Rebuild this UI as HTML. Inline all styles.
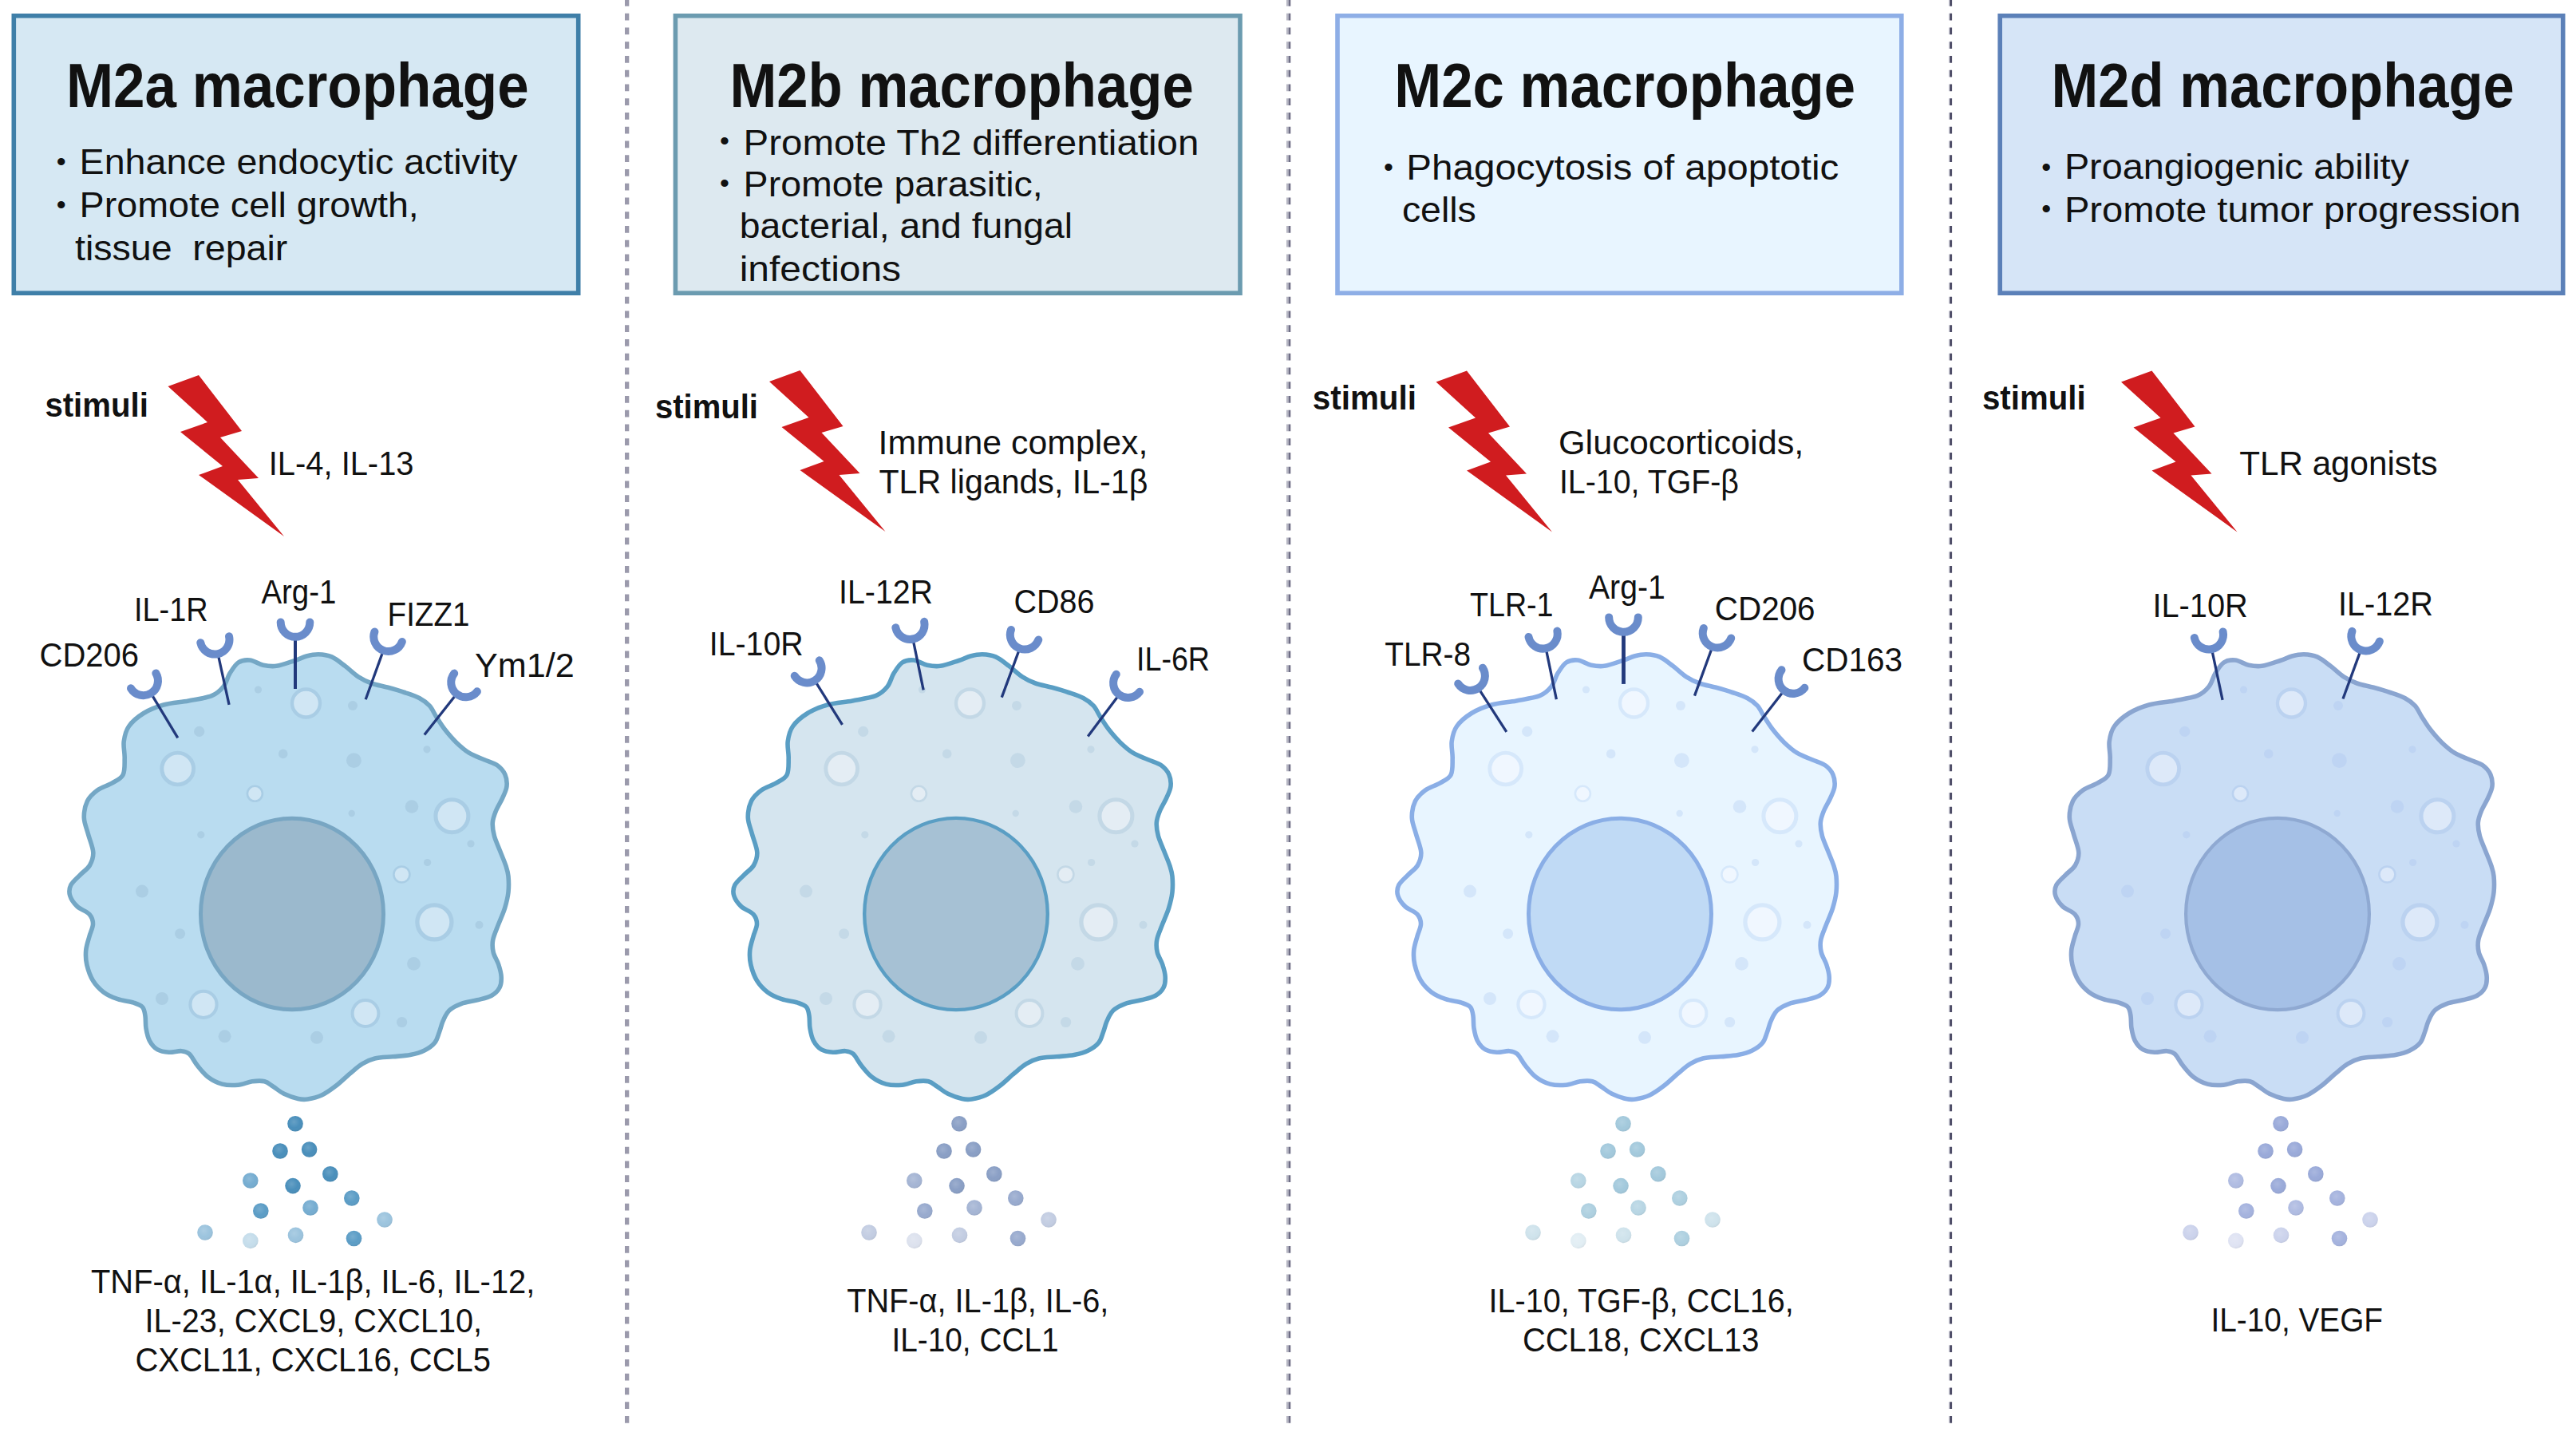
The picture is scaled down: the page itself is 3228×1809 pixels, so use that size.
<!DOCTYPE html>
<html lang="en"><head><meta charset="utf-8"><title>M2 macrophage subtypes</title>
<style>html,body{margin:0;padding:0;background:#fff}svg{display:block}text{font-family:"Liberation Sans",Arial,sans-serif;fill:#111}</style></head><body>
<svg width="3228" height="1809" viewBox="0 0 3228 1809">
<rect width="3228" height="1809" fill="#fff"/>
<defs>
<g id="rc"><line x1="0" y1="-3" x2="0" y2="60" stroke="#22397c"/><path d="M-18.3 -23.5A18.3 18.3 0 0 0 18.3 -23.5" fill="none" stroke="#6a8ccb" stroke-width="10" stroke-linecap="round"/></g>
<radialGradient id="dg0" cx="0.42" cy="0.38" r="0.65"><stop offset="0" stop-color="#fff" stop-opacity="0.16"/><stop offset="0.6" stop-color="#fff" stop-opacity="0"/><stop offset="1" stop-color="#000" stop-opacity="0.07"/></radialGradient>
<radialGradient id="dg1" cx="0.42" cy="0.38" r="0.65"><stop offset="0" stop-color="#fff" stop-opacity="0.16"/><stop offset="0.6" stop-color="#fff" stop-opacity="0"/><stop offset="1" stop-color="#000" stop-opacity="0.07"/></radialGradient>
<radialGradient id="dg2" cx="0.42" cy="0.38" r="0.65"><stop offset="0" stop-color="#fff" stop-opacity="0.16"/><stop offset="0.6" stop-color="#fff" stop-opacity="0"/><stop offset="1" stop-color="#000" stop-opacity="0.07"/></radialGradient>
<radialGradient id="dg3" cx="0.42" cy="0.38" r="0.65"><stop offset="0" stop-color="#fff" stop-opacity="0.16"/><stop offset="0.6" stop-color="#fff" stop-opacity="0"/><stop offset="1" stop-color="#000" stop-opacity="0.07"/></radialGradient>
</defs>
<line x1="785.65" y1="-0.9" x2="785.65" y2="1786" stroke="#9b9aac" stroke-width="5.30" stroke-dasharray="8.6 9.15"/>
<line x1="1613.30" y1="-0.9" x2="1613.30" y2="1786" stroke="#b6b6c3" stroke-width="2.60" stroke-dasharray="8.6 9.15"/>
<line x1="1615.95" y1="-0.9" x2="1615.95" y2="1786" stroke="#6e6d85" stroke-width="2.70" stroke-dasharray="8.6 9.15"/>
<line x1="2442.10" y1="-0.9" x2="2442.10" y2="1786" stroke="#f0f0f4" stroke-width="1.80" stroke-dasharray="8.6 9.15"/>
<line x1="2444.55" y1="-0.9" x2="2444.55" y2="1786" stroke="#504f69" stroke-width="3.10" stroke-dasharray="8.6 9.15"/>

<rect x="17.3" y="19.8" width="707.4" height="347.4" fill="#d6e8f3" stroke="#3f7fa8" stroke-width="5.6"/>
<polygon points="210.5,484.0 249.0,470.0 303.0,540.0 276.0,548.0 324.0,599.0 298.0,601.0 356.0,672.0 249.0,595.0 279.0,584.0 226.0,541.0 260.0,529.0" fill="#d01c1f"/>
<g transform="translate(0 0)">
<path d="M399.0 819.7C393.7 819.6 388.9 820.7 384.0 822.0C379.1 823.3 375.8 825.5 369.5 827.5C363.2 829.5 353.0 833.3 346.4 834.3C339.8 835.2 335.4 834.4 329.8 833.2C324.2 832.0 318.2 827.5 313.0 827.0C307.8 826.5 302.8 827.2 298.6 830.0C294.4 832.8 291.1 838.6 288.0 843.6C284.9 848.6 283.7 855.6 279.9 860.3C276.1 865.0 272.6 868.8 265.3 871.7C258.0 874.6 246.2 876.0 236.2 877.9C226.1 879.8 214.4 880.4 205.0 883.0C195.6 885.6 187.3 889.0 180.0 893.5C172.7 898.0 165.5 904.1 161.4 910.0C157.3 915.9 156.1 922.2 155.2 928.8C154.3 935.4 156.4 942.7 156.2 949.6C156.0 956.5 156.8 965.2 154.2 970.4C151.6 975.6 146.1 977.5 140.7 980.8C135.3 984.1 127.2 986.2 122.0 990.0C116.8 993.8 112.3 997.9 109.5 1003.6C106.7 1009.3 105.1 1017.5 105.3 1024.4C105.5 1031.3 108.6 1037.7 110.5 1045.0C112.4 1052.3 116.5 1061.5 116.8 1068.0C117.1 1074.5 115.1 1079.4 112.5 1084.0C109.9 1088.6 105.0 1091.4 101.0 1095.5C97.0 1099.6 91.0 1104.4 88.8 1108.8C86.6 1113.2 86.4 1117.6 87.7 1122.0C89.0 1126.4 92.5 1131.5 96.6 1135.4C100.6 1139.3 108.7 1141.7 112.0 1145.4C115.3 1149.1 116.5 1153.0 116.5 1157.6C116.5 1162.2 113.5 1167.5 112.0 1173.0C110.5 1178.5 108.2 1184.9 107.7 1190.8C107.2 1196.7 107.3 1202.2 108.8 1208.5C110.3 1214.8 113.0 1222.8 116.5 1228.5C120.0 1234.2 124.6 1239.0 129.8 1242.9C135.0 1246.8 141.3 1249.5 147.6 1251.7C153.9 1253.9 162.3 1254.5 167.5 1256.2C172.7 1257.9 176.2 1258.9 178.6 1261.7C181.0 1264.5 181.3 1268.4 182.0 1272.8C182.7 1277.2 182.1 1283.1 183.0 1288.3C183.9 1293.5 185.0 1299.4 187.4 1303.8C189.8 1308.2 193.3 1312.5 197.4 1314.9C201.5 1317.3 206.8 1317.9 211.8 1318.2C216.8 1318.5 223.1 1316.3 227.3 1316.7C231.6 1317.1 234.0 1317.4 237.3 1320.4C240.6 1323.4 243.4 1330.0 247.3 1334.8C251.2 1339.6 255.4 1345.3 260.6 1349.2C265.8 1353.1 272.0 1356.4 278.3 1358.1C284.6 1359.8 291.9 1359.8 298.2 1359.2C304.5 1358.7 310.4 1355.5 316.0 1354.8C321.6 1354.1 327.1 1353.7 331.5 1354.8C335.9 1355.9 338.5 1358.8 342.6 1361.4C346.7 1364.0 350.7 1367.8 355.9 1370.3C361.1 1372.8 368.7 1375.4 373.6 1376.5C378.5 1377.6 380.6 1377.8 385.5 1377.0C390.4 1376.2 397.3 1374.8 403.2 1372.0C409.1 1369.2 415.1 1364.8 421.0 1360.3C426.9 1355.8 433.2 1349.4 438.7 1344.8C444.2 1340.2 449.0 1335.7 454.2 1332.6C459.4 1329.5 463.4 1327.5 469.7 1326.0C476.0 1324.5 484.5 1324.5 491.9 1323.8C499.3 1323.0 507.4 1322.8 514.0 1321.5C520.6 1320.2 526.6 1318.6 531.8 1316.0C537.0 1313.4 541.9 1309.9 545.0 1306.0C548.1 1302.1 548.9 1297.1 550.6 1292.7C552.3 1288.3 553.0 1283.9 555.0 1279.4C557.0 1275.0 558.9 1269.7 562.8 1266.0C566.7 1262.3 572.4 1259.5 578.3 1257.3C584.2 1255.1 591.9 1254.5 598.2 1252.8C604.5 1251.1 611.4 1249.9 616.0 1247.3C620.6 1244.7 624.0 1241.2 626.0 1237.3C628.0 1233.4 628.4 1228.8 628.2 1224.0C628.0 1219.2 626.5 1213.7 624.8 1208.5C623.1 1203.3 619.4 1198.2 618.2 1193.0C617.0 1187.8 616.6 1183.4 617.7 1177.5C618.8 1171.6 622.3 1164.2 624.8 1157.6C627.3 1150.9 630.6 1144.2 632.6 1137.6C634.6 1130.9 636.3 1124.3 637.0 1117.7C637.7 1111.1 637.5 1103.2 637.0 1097.7C636.5 1092.2 635.6 1090.0 633.9 1084.7C632.2 1079.4 629.0 1072.2 626.6 1066.0C624.2 1059.8 621.0 1053.2 619.4 1047.3C617.8 1041.4 617.0 1035.9 617.3 1030.7C617.6 1025.5 619.3 1021.2 621.4 1016.0C623.5 1010.8 627.5 1004.7 629.8 999.5C632.1 994.3 634.5 989.9 635.0 985.0C635.5 980.1 634.8 974.7 632.9 970.4C631.0 966.1 627.8 962.1 623.5 959.0C619.2 955.9 612.8 954.3 606.9 951.7C601.0 949.1 594.1 947.0 588.2 943.4C582.3 939.8 576.8 934.9 571.6 929.9C566.4 924.9 561.2 918.7 557.0 913.3C552.8 907.9 549.7 902.6 546.6 897.7C543.5 892.9 541.8 888.0 538.3 884.2C534.8 880.4 531.1 877.6 525.9 874.8C520.7 872.0 513.6 869.8 507.0 867.5C500.4 865.2 493.3 863.2 486.4 861.3C479.5 859.4 471.8 858.2 465.6 856.0C459.4 853.8 454.6 851.4 449.0 847.8C443.4 844.2 437.9 838.4 432.3 834.3C426.8 830.1 421.2 825.3 415.7 822.9C410.1 820.5 404.3 819.9 399.0 819.7Z" fill="#b9dcf0" stroke="#74a7c5" stroke-width="5.6" stroke-linejoin="round"/>
<circle cx="249.7" cy="916.4" r="6.6" fill="#abcee4"/>
<circle cx="323.5" cy="864.0" r="4.6" fill="#abcee4"/>
<circle cx="354.7" cy="944.4" r="5.8" fill="#abcee4"/>
<circle cx="251.8" cy="1045.8" r="4.6" fill="#abcee4"/>
<circle cx="442.0" cy="884.0" r="6.0" fill="#abcee4"/>
<circle cx="443.4" cy="952.7" r="9.4" fill="#abcee4"/>
<circle cx="535.0" cy="938.8" r="4.6" fill="#abcee4"/>
<circle cx="516.0" cy="1010.5" r="8.3" fill="#abcee4"/>
<circle cx="440.7" cy="1019.0" r="4.2" fill="#abcee4"/>
<circle cx="590.0" cy="1057.0" r="4.6" fill="#abcee4"/>
<circle cx="535.6" cy="1080.5" r="4.6" fill="#abcee4"/>
<circle cx="600.5" cy="1158.7" r="5.0" fill="#abcee4"/>
<circle cx="518.5" cy="1207.4" r="8.4" fill="#abcee4"/>
<circle cx="503.6" cy="1280.5" r="6.6" fill="#abcee4"/>
<circle cx="397.0" cy="1299.8" r="8.0" fill="#abcee4"/>
<circle cx="281.6" cy="1298.3" r="8.0" fill="#abcee4"/>
<circle cx="203.0" cy="1251.0" r="8.0" fill="#abcee4"/>
<circle cx="225.6" cy="1169.7" r="6.5" fill="#abcee4"/>
<circle cx="178.0" cy="1116.6" r="8.0" fill="#abcee4"/>
<circle cx="383.5" cy="881.0" r="17.5" fill="#d0e6f4" stroke="#a9cde5" stroke-width="4.3"/>
<circle cx="222.7" cy="963.0" r="19.9" fill="#d0e6f4" stroke="#a9cde5" stroke-width="4.9"/>
<circle cx="319.4" cy="994.3" r="9.5" fill="#d0e6f4" stroke="#a9cde5" stroke-width="2.6"/>
<circle cx="566.4" cy="1022.3" r="20.5" fill="#d0e6f4" stroke="#a9cde5" stroke-width="5.1"/>
<circle cx="503.4" cy="1095.5" r="10.0" fill="#d0e6f4" stroke="#a9cde5" stroke-width="2.6"/>
<circle cx="544.4" cy="1155.3" r="21.5" fill="#d0e6f4" stroke="#a9cde5" stroke-width="5.3"/>
<circle cx="458.0" cy="1269.5" r="16.4" fill="#d0e6f4" stroke="#a9cde5" stroke-width="4.0"/>
<circle cx="255.0" cy="1258.4" r="16.6" fill="#d0e6f4" stroke="#a9cde5" stroke-width="4.1"/>
<ellipse cx="366.0" cy="1145.0" rx="114.5" ry="119.8" fill="#9bb9cd" stroke="#78a6c3" stroke-width="5.0"/>
<circle cx="370.0" cy="1407.8" r="9.8" fill="#4a8fbb"/><circle cx="370.0" cy="1407.8" r="9.8" fill="url(#dg0)"/>
<circle cx="351.0" cy="1442.0" r="9.8" fill="#4a8fbb"/><circle cx="351.0" cy="1442.0" r="9.8" fill="url(#dg0)"/>
<circle cx="387.6" cy="1440.0" r="9.8" fill="#4a8fbb"/><circle cx="387.6" cy="1440.0" r="9.8" fill="url(#dg0)"/>
<circle cx="313.8" cy="1479.0" r="9.8" fill="#76add1"/><circle cx="313.8" cy="1479.0" r="9.8" fill="url(#dg0)"/>
<circle cx="413.8" cy="1470.7" r="9.8" fill="#4a8fbb"/><circle cx="413.8" cy="1470.7" r="9.8" fill="url(#dg0)"/>
<circle cx="367.0" cy="1485.6" r="9.8" fill="#4a8fbb"/><circle cx="367.0" cy="1485.6" r="9.8" fill="url(#dg0)"/>
<circle cx="440.8" cy="1501.0" r="9.8" fill="#5c9dc6"/><circle cx="440.8" cy="1501.0" r="9.8" fill="url(#dg0)"/>
<circle cx="326.8" cy="1517.0" r="9.8" fill="#5c9dc6"/><circle cx="326.8" cy="1517.0" r="9.8" fill="url(#dg0)"/>
<circle cx="389.0" cy="1513.0" r="9.8" fill="#76add1"/><circle cx="389.0" cy="1513.0" r="9.8" fill="url(#dg0)"/>
<circle cx="482.0" cy="1528.0" r="9.8" fill="#9cc4de"/><circle cx="482.0" cy="1528.0" r="9.8" fill="url(#dg0)"/>
<circle cx="257.0" cy="1544.0" r="9.8" fill="#9cc4de"/><circle cx="257.0" cy="1544.0" r="9.8" fill="url(#dg0)"/>
<circle cx="313.8" cy="1554.4" r="9.8" fill="#c5ddeb"/><circle cx="313.8" cy="1554.4" r="9.8" fill="url(#dg0)"/>
<circle cx="370.5" cy="1547.4" r="9.8" fill="#9cc4de"/><circle cx="370.5" cy="1547.4" r="9.8" fill="url(#dg0)"/>
<circle cx="443.5" cy="1551.5" r="9.8" fill="#5c9dc6"/><circle cx="443.5" cy="1551.5" r="9.8" fill="url(#dg0)"/>
</g>
<rect x="846.4" y="19.8" width="707.6" height="347.4" fill="#dde9f0" stroke="#6b9bb0" stroke-width="5.6"/>
<polygon points="964.0,478.0 1002.5,464.0 1056.5,534.0 1029.5,542.0 1077.5,593.0 1051.5,595.0 1109.5,666.0 1002.5,589.0 1032.5,578.0 979.5,535.0 1013.5,523.0" fill="#d01c1f"/>
<g transform="translate(832 0)">
<path d="M399.0 819.7C393.7 819.6 388.9 820.7 384.0 822.0C379.1 823.3 375.8 825.5 369.5 827.5C363.2 829.5 353.0 833.3 346.4 834.3C339.8 835.2 335.4 834.4 329.8 833.2C324.2 832.0 318.2 827.5 313.0 827.0C307.8 826.5 302.8 827.2 298.6 830.0C294.4 832.8 291.1 838.6 288.0 843.6C284.9 848.6 283.7 855.6 279.9 860.3C276.1 865.0 272.6 868.8 265.3 871.7C258.0 874.6 246.2 876.0 236.2 877.9C226.1 879.8 214.4 880.4 205.0 883.0C195.6 885.6 187.3 889.0 180.0 893.5C172.7 898.0 165.5 904.1 161.4 910.0C157.3 915.9 156.1 922.2 155.2 928.8C154.3 935.4 156.4 942.7 156.2 949.6C156.0 956.5 156.8 965.2 154.2 970.4C151.6 975.6 146.1 977.5 140.7 980.8C135.3 984.1 127.2 986.2 122.0 990.0C116.8 993.8 112.3 997.9 109.5 1003.6C106.7 1009.3 105.1 1017.5 105.3 1024.4C105.5 1031.3 108.6 1037.7 110.5 1045.0C112.4 1052.3 116.5 1061.5 116.8 1068.0C117.1 1074.5 115.1 1079.4 112.5 1084.0C109.9 1088.6 105.0 1091.4 101.0 1095.5C97.0 1099.6 91.0 1104.4 88.8 1108.8C86.6 1113.2 86.4 1117.6 87.7 1122.0C89.0 1126.4 92.5 1131.5 96.6 1135.4C100.6 1139.3 108.7 1141.7 112.0 1145.4C115.3 1149.1 116.5 1153.0 116.5 1157.6C116.5 1162.2 113.5 1167.5 112.0 1173.0C110.5 1178.5 108.2 1184.9 107.7 1190.8C107.2 1196.7 107.3 1202.2 108.8 1208.5C110.3 1214.8 113.0 1222.8 116.5 1228.5C120.0 1234.2 124.6 1239.0 129.8 1242.9C135.0 1246.8 141.3 1249.5 147.6 1251.7C153.9 1253.9 162.3 1254.5 167.5 1256.2C172.7 1257.9 176.2 1258.9 178.6 1261.7C181.0 1264.5 181.3 1268.4 182.0 1272.8C182.7 1277.2 182.1 1283.1 183.0 1288.3C183.9 1293.5 185.0 1299.4 187.4 1303.8C189.8 1308.2 193.3 1312.5 197.4 1314.9C201.5 1317.3 206.8 1317.9 211.8 1318.2C216.8 1318.5 223.1 1316.3 227.3 1316.7C231.6 1317.1 234.0 1317.4 237.3 1320.4C240.6 1323.4 243.4 1330.0 247.3 1334.8C251.2 1339.6 255.4 1345.3 260.6 1349.2C265.8 1353.1 272.0 1356.4 278.3 1358.1C284.6 1359.8 291.9 1359.8 298.2 1359.2C304.5 1358.7 310.4 1355.5 316.0 1354.8C321.6 1354.1 327.1 1353.7 331.5 1354.8C335.9 1355.9 338.5 1358.8 342.6 1361.4C346.7 1364.0 350.7 1367.8 355.9 1370.3C361.1 1372.8 368.7 1375.4 373.6 1376.5C378.5 1377.6 380.6 1377.8 385.5 1377.0C390.4 1376.2 397.3 1374.8 403.2 1372.0C409.1 1369.2 415.1 1364.8 421.0 1360.3C426.9 1355.8 433.2 1349.4 438.7 1344.8C444.2 1340.2 449.0 1335.7 454.2 1332.6C459.4 1329.5 463.4 1327.5 469.7 1326.0C476.0 1324.5 484.5 1324.5 491.9 1323.8C499.3 1323.0 507.4 1322.8 514.0 1321.5C520.6 1320.2 526.6 1318.6 531.8 1316.0C537.0 1313.4 541.9 1309.9 545.0 1306.0C548.1 1302.1 548.9 1297.1 550.6 1292.7C552.3 1288.3 553.0 1283.9 555.0 1279.4C557.0 1275.0 558.9 1269.7 562.8 1266.0C566.7 1262.3 572.4 1259.5 578.3 1257.3C584.2 1255.1 591.9 1254.5 598.2 1252.8C604.5 1251.1 611.4 1249.9 616.0 1247.3C620.6 1244.7 624.0 1241.2 626.0 1237.3C628.0 1233.4 628.4 1228.8 628.2 1224.0C628.0 1219.2 626.5 1213.7 624.8 1208.5C623.1 1203.3 619.4 1198.2 618.2 1193.0C617.0 1187.8 616.6 1183.4 617.7 1177.5C618.8 1171.6 622.3 1164.2 624.8 1157.6C627.3 1150.9 630.6 1144.2 632.6 1137.6C634.6 1130.9 636.3 1124.3 637.0 1117.7C637.7 1111.1 637.5 1103.2 637.0 1097.7C636.5 1092.2 635.6 1090.0 633.9 1084.7C632.2 1079.4 629.0 1072.2 626.6 1066.0C624.2 1059.8 621.0 1053.2 619.4 1047.3C617.8 1041.4 617.0 1035.9 617.3 1030.7C617.6 1025.5 619.3 1021.2 621.4 1016.0C623.5 1010.8 627.5 1004.7 629.8 999.5C632.1 994.3 634.5 989.9 635.0 985.0C635.5 980.1 634.8 974.7 632.9 970.4C631.0 966.1 627.8 962.1 623.5 959.0C619.2 955.9 612.8 954.3 606.9 951.7C601.0 949.1 594.1 947.0 588.2 943.4C582.3 939.8 576.8 934.9 571.6 929.9C566.4 924.9 561.2 918.7 557.0 913.3C552.8 907.9 549.7 902.6 546.6 897.7C543.5 892.9 541.8 888.0 538.3 884.2C534.8 880.4 531.1 877.6 525.9 874.8C520.7 872.0 513.6 869.8 507.0 867.5C500.4 865.2 493.3 863.2 486.4 861.3C479.5 859.4 471.8 858.2 465.6 856.0C459.4 853.8 454.6 851.4 449.0 847.8C443.4 844.2 437.9 838.4 432.3 834.3C426.8 830.1 421.2 825.3 415.7 822.9C410.1 820.5 404.3 819.9 399.0 819.7Z" fill="#d5e5ef" stroke="#5a9ec4" stroke-width="5.6" stroke-linejoin="round"/>
<circle cx="249.7" cy="916.4" r="6.6" fill="#c4d9e7"/>
<circle cx="323.5" cy="864.0" r="4.6" fill="#c4d9e7"/>
<circle cx="354.7" cy="944.4" r="5.8" fill="#c4d9e7"/>
<circle cx="251.8" cy="1045.8" r="4.6" fill="#c4d9e7"/>
<circle cx="442.0" cy="884.0" r="6.0" fill="#c4d9e7"/>
<circle cx="443.4" cy="952.7" r="9.4" fill="#c4d9e7"/>
<circle cx="535.0" cy="938.8" r="4.6" fill="#c4d9e7"/>
<circle cx="516.0" cy="1010.5" r="8.3" fill="#c4d9e7"/>
<circle cx="440.7" cy="1019.0" r="4.2" fill="#c4d9e7"/>
<circle cx="590.0" cy="1057.0" r="4.6" fill="#c4d9e7"/>
<circle cx="535.6" cy="1080.5" r="4.6" fill="#c4d9e7"/>
<circle cx="600.5" cy="1158.7" r="5.0" fill="#c4d9e7"/>
<circle cx="518.5" cy="1207.4" r="8.4" fill="#c4d9e7"/>
<circle cx="503.6" cy="1280.5" r="6.6" fill="#c4d9e7"/>
<circle cx="397.0" cy="1299.8" r="8.0" fill="#c4d9e7"/>
<circle cx="281.6" cy="1298.3" r="8.0" fill="#c4d9e7"/>
<circle cx="203.0" cy="1251.0" r="8.0" fill="#c4d9e7"/>
<circle cx="225.6" cy="1169.7" r="6.5" fill="#c4d9e7"/>
<circle cx="178.0" cy="1116.6" r="8.0" fill="#c4d9e7"/>
<circle cx="383.5" cy="881.0" r="17.5" fill="#e4edf4" stroke="#c3d8e6" stroke-width="4.3"/>
<circle cx="222.7" cy="963.0" r="19.9" fill="#e4edf4" stroke="#c3d8e6" stroke-width="4.9"/>
<circle cx="319.4" cy="994.3" r="9.5" fill="#e4edf4" stroke="#c3d8e6" stroke-width="2.6"/>
<circle cx="566.4" cy="1022.3" r="20.5" fill="#e4edf4" stroke="#c3d8e6" stroke-width="5.1"/>
<circle cx="503.4" cy="1095.5" r="10.0" fill="#e4edf4" stroke="#c3d8e6" stroke-width="2.6"/>
<circle cx="544.4" cy="1155.3" r="21.5" fill="#e4edf4" stroke="#c3d8e6" stroke-width="5.3"/>
<circle cx="458.0" cy="1269.5" r="16.4" fill="#e4edf4" stroke="#c3d8e6" stroke-width="4.0"/>
<circle cx="255.0" cy="1258.4" r="16.6" fill="#e4edf4" stroke="#c3d8e6" stroke-width="4.1"/>
<ellipse cx="366.0" cy="1145.0" rx="114.8" ry="120.1" fill="#a6c1d4" stroke="#5a9ec4" stroke-width="4.4"/>
<circle cx="370.0" cy="1407.8" r="9.8" fill="#8a9fc5"/><circle cx="370.0" cy="1407.8" r="9.8" fill="url(#dg1)"/>
<circle cx="351.0" cy="1442.0" r="9.8" fill="#8a9fc5"/><circle cx="351.0" cy="1442.0" r="9.8" fill="url(#dg1)"/>
<circle cx="387.6" cy="1440.0" r="9.8" fill="#8a9fc5"/><circle cx="387.6" cy="1440.0" r="9.8" fill="url(#dg1)"/>
<circle cx="313.8" cy="1479.0" r="9.8" fill="#a5b5d4"/><circle cx="313.8" cy="1479.0" r="9.8" fill="url(#dg1)"/>
<circle cx="413.8" cy="1470.7" r="9.8" fill="#8a9fc5"/><circle cx="413.8" cy="1470.7" r="9.8" fill="url(#dg1)"/>
<circle cx="367.0" cy="1485.6" r="9.8" fill="#8a9fc5"/><circle cx="367.0" cy="1485.6" r="9.8" fill="url(#dg1)"/>
<circle cx="440.8" cy="1501.0" r="9.8" fill="#98aace"/><circle cx="440.8" cy="1501.0" r="9.8" fill="url(#dg1)"/>
<circle cx="326.8" cy="1517.0" r="9.8" fill="#98aace"/><circle cx="326.8" cy="1517.0" r="9.8" fill="url(#dg1)"/>
<circle cx="389.0" cy="1513.0" r="9.8" fill="#a5b5d4"/><circle cx="389.0" cy="1513.0" r="9.8" fill="url(#dg1)"/>
<circle cx="482.0" cy="1528.0" r="9.8" fill="#c3cde2"/><circle cx="482.0" cy="1528.0" r="9.8" fill="url(#dg1)"/>
<circle cx="257.0" cy="1544.0" r="9.8" fill="#c3cde2"/><circle cx="257.0" cy="1544.0" r="9.8" fill="url(#dg1)"/>
<circle cx="313.8" cy="1554.4" r="9.8" fill="#dde2ee"/><circle cx="313.8" cy="1554.4" r="9.8" fill="url(#dg1)"/>
<circle cx="370.5" cy="1547.4" r="9.8" fill="#c3cde2"/><circle cx="370.5" cy="1547.4" r="9.8" fill="url(#dg1)"/>
<circle cx="443.5" cy="1551.5" r="9.8" fill="#98aace"/><circle cx="443.5" cy="1551.5" r="9.8" fill="url(#dg1)"/>
</g>
<rect x="1676.0" y="19.8" width="706.8" height="347.4" fill="#e8f5ff" stroke="#8eaee6" stroke-width="5.6"/>
<polygon points="1799.5,478.5 1838.0,464.5 1892.0,534.5 1865.0,542.5 1913.0,593.5 1887.0,595.5 1945.0,666.5 1838.0,589.5 1868.0,578.5 1815.0,535.5 1849.0,523.5" fill="#d01c1f"/>
<g transform="translate(1664 0)">
<path d="M399.0 819.7C393.7 819.6 388.9 820.7 384.0 822.0C379.1 823.3 375.8 825.5 369.5 827.5C363.2 829.5 353.0 833.3 346.4 834.3C339.8 835.2 335.4 834.4 329.8 833.2C324.2 832.0 318.2 827.5 313.0 827.0C307.8 826.5 302.8 827.2 298.6 830.0C294.4 832.8 291.1 838.6 288.0 843.6C284.9 848.6 283.7 855.6 279.9 860.3C276.1 865.0 272.6 868.8 265.3 871.7C258.0 874.6 246.2 876.0 236.2 877.9C226.1 879.8 214.4 880.4 205.0 883.0C195.6 885.6 187.3 889.0 180.0 893.5C172.7 898.0 165.5 904.1 161.4 910.0C157.3 915.9 156.1 922.2 155.2 928.8C154.3 935.4 156.4 942.7 156.2 949.6C156.0 956.5 156.8 965.2 154.2 970.4C151.6 975.6 146.1 977.5 140.7 980.8C135.3 984.1 127.2 986.2 122.0 990.0C116.8 993.8 112.3 997.9 109.5 1003.6C106.7 1009.3 105.1 1017.5 105.3 1024.4C105.5 1031.3 108.6 1037.7 110.5 1045.0C112.4 1052.3 116.5 1061.5 116.8 1068.0C117.1 1074.5 115.1 1079.4 112.5 1084.0C109.9 1088.6 105.0 1091.4 101.0 1095.5C97.0 1099.6 91.0 1104.4 88.8 1108.8C86.6 1113.2 86.4 1117.6 87.7 1122.0C89.0 1126.4 92.5 1131.5 96.6 1135.4C100.6 1139.3 108.7 1141.7 112.0 1145.4C115.3 1149.1 116.5 1153.0 116.5 1157.6C116.5 1162.2 113.5 1167.5 112.0 1173.0C110.5 1178.5 108.2 1184.9 107.7 1190.8C107.2 1196.7 107.3 1202.2 108.8 1208.5C110.3 1214.8 113.0 1222.8 116.5 1228.5C120.0 1234.2 124.6 1239.0 129.8 1242.9C135.0 1246.8 141.3 1249.5 147.6 1251.7C153.9 1253.9 162.3 1254.5 167.5 1256.2C172.7 1257.9 176.2 1258.9 178.6 1261.7C181.0 1264.5 181.3 1268.4 182.0 1272.8C182.7 1277.2 182.1 1283.1 183.0 1288.3C183.9 1293.5 185.0 1299.4 187.4 1303.8C189.8 1308.2 193.3 1312.5 197.4 1314.9C201.5 1317.3 206.8 1317.9 211.8 1318.2C216.8 1318.5 223.1 1316.3 227.3 1316.7C231.6 1317.1 234.0 1317.4 237.3 1320.4C240.6 1323.4 243.4 1330.0 247.3 1334.8C251.2 1339.6 255.4 1345.3 260.6 1349.2C265.8 1353.1 272.0 1356.4 278.3 1358.1C284.6 1359.8 291.9 1359.8 298.2 1359.2C304.5 1358.7 310.4 1355.5 316.0 1354.8C321.6 1354.1 327.1 1353.7 331.5 1354.8C335.9 1355.9 338.5 1358.8 342.6 1361.4C346.7 1364.0 350.7 1367.8 355.9 1370.3C361.1 1372.8 368.7 1375.4 373.6 1376.5C378.5 1377.6 380.6 1377.8 385.5 1377.0C390.4 1376.2 397.3 1374.8 403.2 1372.0C409.1 1369.2 415.1 1364.8 421.0 1360.3C426.9 1355.8 433.2 1349.4 438.7 1344.8C444.2 1340.2 449.0 1335.7 454.2 1332.6C459.4 1329.5 463.4 1327.5 469.7 1326.0C476.0 1324.5 484.5 1324.5 491.9 1323.8C499.3 1323.0 507.4 1322.8 514.0 1321.5C520.6 1320.2 526.6 1318.6 531.8 1316.0C537.0 1313.4 541.9 1309.9 545.0 1306.0C548.1 1302.1 548.9 1297.1 550.6 1292.7C552.3 1288.3 553.0 1283.9 555.0 1279.4C557.0 1275.0 558.9 1269.7 562.8 1266.0C566.7 1262.3 572.4 1259.5 578.3 1257.3C584.2 1255.1 591.9 1254.5 598.2 1252.8C604.5 1251.1 611.4 1249.9 616.0 1247.3C620.6 1244.7 624.0 1241.2 626.0 1237.3C628.0 1233.4 628.4 1228.8 628.2 1224.0C628.0 1219.2 626.5 1213.7 624.8 1208.5C623.1 1203.3 619.4 1198.2 618.2 1193.0C617.0 1187.8 616.6 1183.4 617.7 1177.5C618.8 1171.6 622.3 1164.2 624.8 1157.6C627.3 1150.9 630.6 1144.2 632.6 1137.6C634.6 1130.9 636.3 1124.3 637.0 1117.7C637.7 1111.1 637.5 1103.2 637.0 1097.7C636.5 1092.2 635.6 1090.0 633.9 1084.7C632.2 1079.4 629.0 1072.2 626.6 1066.0C624.2 1059.8 621.0 1053.2 619.4 1047.3C617.8 1041.4 617.0 1035.9 617.3 1030.7C617.6 1025.5 619.3 1021.2 621.4 1016.0C623.5 1010.8 627.5 1004.7 629.8 999.5C632.1 994.3 634.5 989.9 635.0 985.0C635.5 980.1 634.8 974.7 632.9 970.4C631.0 966.1 627.8 962.1 623.5 959.0C619.2 955.9 612.8 954.3 606.9 951.7C601.0 949.1 594.1 947.0 588.2 943.4C582.3 939.8 576.8 934.9 571.6 929.9C566.4 924.9 561.2 918.7 557.0 913.3C552.8 907.9 549.7 902.6 546.6 897.7C543.5 892.9 541.8 888.0 538.3 884.2C534.8 880.4 531.1 877.6 525.9 874.8C520.7 872.0 513.6 869.8 507.0 867.5C500.4 865.2 493.3 863.2 486.4 861.3C479.5 859.4 471.8 858.2 465.6 856.0C459.4 853.8 454.6 851.4 449.0 847.8C443.4 844.2 437.9 838.4 432.3 834.3C426.8 830.1 421.2 825.3 415.7 822.9C410.1 820.5 404.3 819.9 399.0 819.7Z" fill="#e8f5ff" stroke="#8aaee6" stroke-width="5.6" stroke-linejoin="round"/>
<circle cx="249.7" cy="916.4" r="6.6" fill="#d4e6fa"/>
<circle cx="323.5" cy="864.0" r="4.6" fill="#d4e6fa"/>
<circle cx="354.7" cy="944.4" r="5.8" fill="#d4e6fa"/>
<circle cx="251.8" cy="1045.8" r="4.6" fill="#d4e6fa"/>
<circle cx="442.0" cy="884.0" r="6.0" fill="#d4e6fa"/>
<circle cx="443.4" cy="952.7" r="9.4" fill="#d4e6fa"/>
<circle cx="535.0" cy="938.8" r="4.6" fill="#d4e6fa"/>
<circle cx="516.0" cy="1010.5" r="8.3" fill="#d4e6fa"/>
<circle cx="440.7" cy="1019.0" r="4.2" fill="#d4e6fa"/>
<circle cx="590.0" cy="1057.0" r="4.6" fill="#d4e6fa"/>
<circle cx="535.6" cy="1080.5" r="4.6" fill="#d4e6fa"/>
<circle cx="600.5" cy="1158.7" r="5.0" fill="#d4e6fa"/>
<circle cx="518.5" cy="1207.4" r="8.4" fill="#d4e6fa"/>
<circle cx="503.6" cy="1280.5" r="6.6" fill="#d4e6fa"/>
<circle cx="397.0" cy="1299.8" r="8.0" fill="#d4e6fa"/>
<circle cx="281.6" cy="1298.3" r="8.0" fill="#d4e6fa"/>
<circle cx="203.0" cy="1251.0" r="8.0" fill="#d4e6fa"/>
<circle cx="225.6" cy="1169.7" r="6.5" fill="#d4e6fa"/>
<circle cx="178.0" cy="1116.6" r="8.0" fill="#d4e6fa"/>
<circle cx="383.5" cy="881.0" r="17.5" fill="#f0f7ff" stroke="#d6e8fb" stroke-width="4.3"/>
<circle cx="222.7" cy="963.0" r="19.9" fill="#f0f7ff" stroke="#d6e8fb" stroke-width="4.9"/>
<circle cx="319.4" cy="994.3" r="9.5" fill="#f0f7ff" stroke="#d6e8fb" stroke-width="2.6"/>
<circle cx="566.4" cy="1022.3" r="20.5" fill="#f0f7ff" stroke="#d6e8fb" stroke-width="5.1"/>
<circle cx="503.4" cy="1095.5" r="10.0" fill="#f0f7ff" stroke="#d6e8fb" stroke-width="2.6"/>
<circle cx="544.4" cy="1155.3" r="21.5" fill="#f0f7ff" stroke="#d6e8fb" stroke-width="5.3"/>
<circle cx="458.0" cy="1269.5" r="16.4" fill="#f0f7ff" stroke="#d6e8fb" stroke-width="4.0"/>
<circle cx="255.0" cy="1258.4" r="16.6" fill="#f0f7ff" stroke="#d6e8fb" stroke-width="4.1"/>
<ellipse cx="366.0" cy="1145.0" rx="114.5" ry="119.8" fill="#c0daf5" stroke="#8aaee6" stroke-width="5.0"/>
<circle cx="370.0" cy="1407.8" r="9.8" fill="#a3c9dc"/><circle cx="370.0" cy="1407.8" r="9.8" fill="url(#dg2)"/>
<circle cx="351.0" cy="1442.0" r="9.8" fill="#a3c9dc"/><circle cx="351.0" cy="1442.0" r="9.8" fill="url(#dg2)"/>
<circle cx="387.6" cy="1440.0" r="9.8" fill="#a3c9dc"/><circle cx="387.6" cy="1440.0" r="9.8" fill="url(#dg2)"/>
<circle cx="313.8" cy="1479.0" r="9.8" fill="#b8d6e4"/><circle cx="313.8" cy="1479.0" r="9.8" fill="url(#dg2)"/>
<circle cx="413.8" cy="1470.7" r="9.8" fill="#a3c9dc"/><circle cx="413.8" cy="1470.7" r="9.8" fill="url(#dg2)"/>
<circle cx="367.0" cy="1485.6" r="9.8" fill="#a3c9dc"/><circle cx="367.0" cy="1485.6" r="9.8" fill="url(#dg2)"/>
<circle cx="440.8" cy="1501.0" r="9.8" fill="#aed0e0"/><circle cx="440.8" cy="1501.0" r="9.8" fill="url(#dg2)"/>
<circle cx="326.8" cy="1517.0" r="9.8" fill="#aed0e0"/><circle cx="326.8" cy="1517.0" r="9.8" fill="url(#dg2)"/>
<circle cx="389.0" cy="1513.0" r="9.8" fill="#b8d6e4"/><circle cx="389.0" cy="1513.0" r="9.8" fill="url(#dg2)"/>
<circle cx="482.0" cy="1528.0" r="9.8" fill="#cfe3ec"/><circle cx="482.0" cy="1528.0" r="9.8" fill="url(#dg2)"/>
<circle cx="257.0" cy="1544.0" r="9.8" fill="#cfe3ec"/><circle cx="257.0" cy="1544.0" r="9.8" fill="url(#dg2)"/>
<circle cx="313.8" cy="1554.4" r="9.8" fill="#e2eef4"/><circle cx="313.8" cy="1554.4" r="9.8" fill="url(#dg2)"/>
<circle cx="370.5" cy="1547.4" r="9.8" fill="#cfe3ec"/><circle cx="370.5" cy="1547.4" r="9.8" fill="url(#dg2)"/>
<circle cx="443.5" cy="1551.5" r="9.8" fill="#aed0e0"/><circle cx="443.5" cy="1551.5" r="9.8" fill="url(#dg2)"/>
</g>
<rect x="2506.2" y="19.8" width="705.5" height="347.4" fill="#d6e5f7" stroke="#5b80b8" stroke-width="5.6"/>
<polygon points="2658.0,478.5 2696.5,464.5 2750.5,534.5 2723.5,542.5 2771.5,593.5 2745.5,595.5 2803.5,666.5 2696.5,589.5 2726.5,578.5 2673.5,535.5 2707.5,523.5" fill="#d01c1f"/>
<g transform="translate(2488 0)">
<path d="M399.0 819.7C393.7 819.6 388.9 820.7 384.0 822.0C379.1 823.3 375.8 825.5 369.5 827.5C363.2 829.5 353.0 833.3 346.4 834.3C339.8 835.2 335.4 834.4 329.8 833.2C324.2 832.0 318.2 827.5 313.0 827.0C307.8 826.5 302.8 827.2 298.6 830.0C294.4 832.8 291.1 838.6 288.0 843.6C284.9 848.6 283.7 855.6 279.9 860.3C276.1 865.0 272.6 868.8 265.3 871.7C258.0 874.6 246.2 876.0 236.2 877.9C226.1 879.8 214.4 880.4 205.0 883.0C195.6 885.6 187.3 889.0 180.0 893.5C172.7 898.0 165.5 904.1 161.4 910.0C157.3 915.9 156.1 922.2 155.2 928.8C154.3 935.4 156.4 942.7 156.2 949.6C156.0 956.5 156.8 965.2 154.2 970.4C151.6 975.6 146.1 977.5 140.7 980.8C135.3 984.1 127.2 986.2 122.0 990.0C116.8 993.8 112.3 997.9 109.5 1003.6C106.7 1009.3 105.1 1017.5 105.3 1024.4C105.5 1031.3 108.6 1037.7 110.5 1045.0C112.4 1052.3 116.5 1061.5 116.8 1068.0C117.1 1074.5 115.1 1079.4 112.5 1084.0C109.9 1088.6 105.0 1091.4 101.0 1095.5C97.0 1099.6 91.0 1104.4 88.8 1108.8C86.6 1113.2 86.4 1117.6 87.7 1122.0C89.0 1126.4 92.5 1131.5 96.6 1135.4C100.6 1139.3 108.7 1141.7 112.0 1145.4C115.3 1149.1 116.5 1153.0 116.5 1157.6C116.5 1162.2 113.5 1167.5 112.0 1173.0C110.5 1178.5 108.2 1184.9 107.7 1190.8C107.2 1196.7 107.3 1202.2 108.8 1208.5C110.3 1214.8 113.0 1222.8 116.5 1228.5C120.0 1234.2 124.6 1239.0 129.8 1242.9C135.0 1246.8 141.3 1249.5 147.6 1251.7C153.9 1253.9 162.3 1254.5 167.5 1256.2C172.7 1257.9 176.2 1258.9 178.6 1261.7C181.0 1264.5 181.3 1268.4 182.0 1272.8C182.7 1277.2 182.1 1283.1 183.0 1288.3C183.9 1293.5 185.0 1299.4 187.4 1303.8C189.8 1308.2 193.3 1312.5 197.4 1314.9C201.5 1317.3 206.8 1317.9 211.8 1318.2C216.8 1318.5 223.1 1316.3 227.3 1316.7C231.6 1317.1 234.0 1317.4 237.3 1320.4C240.6 1323.4 243.4 1330.0 247.3 1334.8C251.2 1339.6 255.4 1345.3 260.6 1349.2C265.8 1353.1 272.0 1356.4 278.3 1358.1C284.6 1359.8 291.9 1359.8 298.2 1359.2C304.5 1358.7 310.4 1355.5 316.0 1354.8C321.6 1354.1 327.1 1353.7 331.5 1354.8C335.9 1355.9 338.5 1358.8 342.6 1361.4C346.7 1364.0 350.7 1367.8 355.9 1370.3C361.1 1372.8 368.7 1375.4 373.6 1376.5C378.5 1377.6 380.6 1377.8 385.5 1377.0C390.4 1376.2 397.3 1374.8 403.2 1372.0C409.1 1369.2 415.1 1364.8 421.0 1360.3C426.9 1355.8 433.2 1349.4 438.7 1344.8C444.2 1340.2 449.0 1335.7 454.2 1332.6C459.4 1329.5 463.4 1327.5 469.7 1326.0C476.0 1324.5 484.5 1324.5 491.9 1323.8C499.3 1323.0 507.4 1322.8 514.0 1321.5C520.6 1320.2 526.6 1318.6 531.8 1316.0C537.0 1313.4 541.9 1309.9 545.0 1306.0C548.1 1302.1 548.9 1297.1 550.6 1292.7C552.3 1288.3 553.0 1283.9 555.0 1279.4C557.0 1275.0 558.9 1269.7 562.8 1266.0C566.7 1262.3 572.4 1259.5 578.3 1257.3C584.2 1255.1 591.9 1254.5 598.2 1252.8C604.5 1251.1 611.4 1249.9 616.0 1247.3C620.6 1244.7 624.0 1241.2 626.0 1237.3C628.0 1233.4 628.4 1228.8 628.2 1224.0C628.0 1219.2 626.5 1213.7 624.8 1208.5C623.1 1203.3 619.4 1198.2 618.2 1193.0C617.0 1187.8 616.6 1183.4 617.7 1177.5C618.8 1171.6 622.3 1164.2 624.8 1157.6C627.3 1150.9 630.6 1144.2 632.6 1137.6C634.6 1130.9 636.3 1124.3 637.0 1117.7C637.7 1111.1 637.5 1103.2 637.0 1097.7C636.5 1092.2 635.6 1090.0 633.9 1084.7C632.2 1079.4 629.0 1072.2 626.6 1066.0C624.2 1059.8 621.0 1053.2 619.4 1047.3C617.8 1041.4 617.0 1035.9 617.3 1030.7C617.6 1025.5 619.3 1021.2 621.4 1016.0C623.5 1010.8 627.5 1004.7 629.8 999.5C632.1 994.3 634.5 989.9 635.0 985.0C635.5 980.1 634.8 974.7 632.9 970.4C631.0 966.1 627.8 962.1 623.5 959.0C619.2 955.9 612.8 954.3 606.9 951.7C601.0 949.1 594.1 947.0 588.2 943.4C582.3 939.8 576.8 934.9 571.6 929.9C566.4 924.9 561.2 918.7 557.0 913.3C552.8 907.9 549.7 902.6 546.6 897.7C543.5 892.9 541.8 888.0 538.3 884.2C534.8 880.4 531.1 877.6 525.9 874.8C520.7 872.0 513.6 869.8 507.0 867.5C500.4 865.2 493.3 863.2 486.4 861.3C479.5 859.4 471.8 858.2 465.6 856.0C459.4 853.8 454.6 851.4 449.0 847.8C443.4 844.2 437.9 838.4 432.3 834.3C426.8 830.1 421.2 825.3 415.7 822.9C410.1 820.5 404.3 819.9 399.0 819.7Z" fill="#c9ddf5" stroke="#8aa5d0" stroke-width="5.6" stroke-linejoin="round"/>
<circle cx="249.7" cy="916.4" r="6.6" fill="#bed4f3"/>
<circle cx="323.5" cy="864.0" r="4.6" fill="#bed4f3"/>
<circle cx="354.7" cy="944.4" r="5.8" fill="#bed4f3"/>
<circle cx="251.8" cy="1045.8" r="4.6" fill="#bed4f3"/>
<circle cx="442.0" cy="884.0" r="6.0" fill="#bed4f3"/>
<circle cx="443.4" cy="952.7" r="9.4" fill="#bed4f3"/>
<circle cx="535.0" cy="938.8" r="4.6" fill="#bed4f3"/>
<circle cx="516.0" cy="1010.5" r="8.3" fill="#bed4f3"/>
<circle cx="440.7" cy="1019.0" r="4.2" fill="#bed4f3"/>
<circle cx="590.0" cy="1057.0" r="4.6" fill="#bed4f3"/>
<circle cx="535.6" cy="1080.5" r="4.6" fill="#bed4f3"/>
<circle cx="600.5" cy="1158.7" r="5.0" fill="#bed4f3"/>
<circle cx="518.5" cy="1207.4" r="8.4" fill="#bed4f3"/>
<circle cx="503.6" cy="1280.5" r="6.6" fill="#bed4f3"/>
<circle cx="397.0" cy="1299.8" r="8.0" fill="#bed4f3"/>
<circle cx="281.6" cy="1298.3" r="8.0" fill="#bed4f3"/>
<circle cx="203.0" cy="1251.0" r="8.0" fill="#bed4f3"/>
<circle cx="225.6" cy="1169.7" r="6.5" fill="#bed4f3"/>
<circle cx="178.0" cy="1116.6" r="8.0" fill="#bed4f3"/>
<circle cx="383.5" cy="881.0" r="17.5" fill="#dde9f9" stroke="#bbd2f0" stroke-width="4.3"/>
<circle cx="222.7" cy="963.0" r="19.9" fill="#dde9f9" stroke="#bbd2f0" stroke-width="4.9"/>
<circle cx="319.4" cy="994.3" r="9.5" fill="#dde9f9" stroke="#bbd2f0" stroke-width="2.6"/>
<circle cx="566.4" cy="1022.3" r="20.5" fill="#dde9f9" stroke="#bbd2f0" stroke-width="5.1"/>
<circle cx="503.4" cy="1095.5" r="10.0" fill="#dde9f9" stroke="#bbd2f0" stroke-width="2.6"/>
<circle cx="544.4" cy="1155.3" r="21.5" fill="#dde9f9" stroke="#bbd2f0" stroke-width="5.3"/>
<circle cx="458.0" cy="1269.5" r="16.4" fill="#dde9f9" stroke="#bbd2f0" stroke-width="4.0"/>
<circle cx="255.0" cy="1258.4" r="16.6" fill="#dde9f9" stroke="#bbd2f0" stroke-width="4.1"/>
<ellipse cx="366.0" cy="1145.0" rx="114.9" ry="120.2" fill="#a5c0e6" stroke="#8fa9d2" stroke-width="4.2"/>
<circle cx="370.0" cy="1407.8" r="9.8" fill="#9aaad9"/><circle cx="370.0" cy="1407.8" r="9.8" fill="url(#dg3)"/>
<circle cx="351.0" cy="1442.0" r="9.8" fill="#9aaad9"/><circle cx="351.0" cy="1442.0" r="9.8" fill="url(#dg3)"/>
<circle cx="387.6" cy="1440.0" r="9.8" fill="#9aaad9"/><circle cx="387.6" cy="1440.0" r="9.8" fill="url(#dg3)"/>
<circle cx="313.8" cy="1479.0" r="9.8" fill="#b0bce2"/><circle cx="313.8" cy="1479.0" r="9.8" fill="url(#dg3)"/>
<circle cx="413.8" cy="1470.7" r="9.8" fill="#9aaad9"/><circle cx="413.8" cy="1470.7" r="9.8" fill="url(#dg3)"/>
<circle cx="367.0" cy="1485.6" r="9.8" fill="#9aaad9"/><circle cx="367.0" cy="1485.6" r="9.8" fill="url(#dg3)"/>
<circle cx="440.8" cy="1501.0" r="9.8" fill="#a5b3de"/><circle cx="440.8" cy="1501.0" r="9.8" fill="url(#dg3)"/>
<circle cx="326.8" cy="1517.0" r="9.8" fill="#a5b3de"/><circle cx="326.8" cy="1517.0" r="9.8" fill="url(#dg3)"/>
<circle cx="389.0" cy="1513.0" r="9.8" fill="#b0bce2"/><circle cx="389.0" cy="1513.0" r="9.8" fill="url(#dg3)"/>
<circle cx="482.0" cy="1528.0" r="9.8" fill="#ccd3ec"/><circle cx="482.0" cy="1528.0" r="9.8" fill="url(#dg3)"/>
<circle cx="257.0" cy="1544.0" r="9.8" fill="#ccd3ec"/><circle cx="257.0" cy="1544.0" r="9.8" fill="url(#dg3)"/>
<circle cx="313.8" cy="1554.4" r="9.8" fill="#dfe3f3"/><circle cx="313.8" cy="1554.4" r="9.8" fill="url(#dg3)"/>
<circle cx="370.5" cy="1547.4" r="9.8" fill="#ccd3ec"/><circle cx="370.5" cy="1547.4" r="9.8" fill="url(#dg3)"/>
<circle cx="443.5" cy="1551.5" r="9.8" fill="#a5b3de"/><circle cx="443.5" cy="1551.5" r="9.8" fill="url(#dg3)"/>
</g>
<use href="#rc" stroke-width="3.3" transform="translate(191.8 873.0) rotate(-31.1)"/>
<use href="#rc" stroke-width="3.3" transform="translate(274.2 824.2) rotate(-12.4)"/>
<use href="#rc" stroke-width="4.0" transform="translate(370.0 803.0) rotate(0.0)"/>
<use href="#rc" stroke-width="3.3" transform="translate(478.6 819.8) rotate(19.9)"/>
<use href="#rc" stroke-width="3.3" transform="translate(569.0 873.4) rotate(38.3)"/>
<use href="#rc" stroke-width="3.3" transform="translate(1023.7 857.0) rotate(-32.0)"/>
<use href="#rc" stroke-width="3.3" transform="translate(1145.0 805.6) rotate(-11.7)"/>
<use href="#rc" stroke-width="3.3" transform="translate(1276.0 817.3) rotate(20.2)"/>
<use href="#rc" stroke-width="3.3" transform="translate(1399.3 874.5) rotate(36.9)"/>
<use href="#rc" stroke-width="3.3" transform="translate(1855.3 866.4) rotate(-32.8)"/>
<use href="#rc" stroke-width="3.3" transform="translate(1938.2 817.3) rotate(-11.7)"/>
<use href="#rc" stroke-width="4.8" transform="translate(2034.5 796.9) rotate(0.0)"/>
<use href="#rc" stroke-width="3.3" transform="translate(2144.0 815.3) rotate(20.0)"/>
<use href="#rc" stroke-width="3.3" transform="translate(2232.5 869.1) rotate(37.9)"/>
<use href="#rc" stroke-width="3.3" transform="translate(2772.6 818.2) rotate(-12.0)"/>
<use href="#rc" stroke-width="3.3" transform="translate(2956.6 819.2) rotate(20.1)"/>
<text x="83.0" y="134.3" font-size="77" font-weight="bold" textLength="579.6" lengthAdjust="spacingAndGlyphs" fill="#000" xml:space="preserve">M2a macrophage</text>
<text x="914.4" y="134.0" font-size="77" font-weight="bold" textLength="581.4" lengthAdjust="spacingAndGlyphs" fill="#000" xml:space="preserve">M2b macrophage</text>
<text x="1747.3" y="134.0" font-size="77" font-weight="bold" textLength="577.7" lengthAdjust="spacingAndGlyphs" fill="#000" xml:space="preserve">M2c macrophage</text>
<text x="2570.6" y="134.2" font-size="77" font-weight="bold" textLength="580.2" lengthAdjust="spacingAndGlyphs" fill="#000" xml:space="preserve">M2d macrophage</text>
<text x="99.6" y="218.4" font-size="45" font-weight="normal" textLength="548.9" lengthAdjust="spacingAndGlyphs" fill="#151515" xml:space="preserve">Enhance endocytic activity</text>
<text x="99.6" y="272.0" font-size="45" font-weight="normal" textLength="425.2" lengthAdjust="spacingAndGlyphs" fill="#151515" xml:space="preserve">Promote cell growth,</text>
<text x="94.0" y="325.8" font-size="45" font-weight="normal" textLength="266.3" lengthAdjust="spacingAndGlyphs" fill="#151515" xml:space="preserve">tissue  repair</text>
<text x="931.6" y="194.0" font-size="45" font-weight="normal" textLength="570.7" lengthAdjust="spacingAndGlyphs" fill="#151515" xml:space="preserve">Promote Th2 differentiation</text>
<text x="931.6" y="246.2" font-size="45" font-weight="normal" textLength="375.1" lengthAdjust="spacingAndGlyphs" fill="#151515" xml:space="preserve">Promote parasitic,</text>
<text x="926.7" y="298.4" font-size="45" font-weight="normal" textLength="417.3" lengthAdjust="spacingAndGlyphs" fill="#151515" xml:space="preserve">bacterial, and fungal</text>
<text x="926.7" y="351.5" font-size="45" font-weight="normal" textLength="202.3" lengthAdjust="spacingAndGlyphs" fill="#151515" xml:space="preserve">infections</text>
<text x="1762.3" y="225.0" font-size="45" font-weight="normal" textLength="542.1" lengthAdjust="spacingAndGlyphs" fill="#151515" xml:space="preserve">Phagocytosis of apoptotic</text>
<text x="1756.9" y="277.9" font-size="45" font-weight="normal" textLength="92.9" lengthAdjust="spacingAndGlyphs" fill="#151515" xml:space="preserve">cells</text>
<text x="2586.9" y="224.3" font-size="45" font-weight="normal" textLength="432.1" lengthAdjust="spacingAndGlyphs" fill="#151515" xml:space="preserve">Proangiogenic ability</text>
<text x="2586.9" y="277.6" font-size="45" font-weight="normal" textLength="571.8" lengthAdjust="spacingAndGlyphs" fill="#151515" xml:space="preserve">Promote tumor progression</text>
<text x="56.4" y="522.1" font-size="42" font-weight="bold" textLength="129.4" lengthAdjust="spacingAndGlyphs" fill="#000" xml:space="preserve">stimuli</text>
<text x="821.0" y="523.5" font-size="42" font-weight="bold" textLength="129.0" lengthAdjust="spacingAndGlyphs" fill="#000" xml:space="preserve">stimuli</text>
<text x="1644.8" y="513.3" font-size="42" font-weight="bold" textLength="130.2" lengthAdjust="spacingAndGlyphs" fill="#000" xml:space="preserve">stimuli</text>
<text x="2484.0" y="513.3" font-size="42" font-weight="bold" textLength="129.6" lengthAdjust="spacingAndGlyphs" fill="#000" xml:space="preserve">stimuli</text>
<text x="336.8" y="594.5" font-size="42" font-weight="normal" textLength="181.7" lengthAdjust="spacingAndGlyphs" fill="#151515" xml:space="preserve">IL-4, IL-13</text>
<text x="1100.6" y="569.0" font-size="42" font-weight="normal" textLength="337.7" lengthAdjust="spacingAndGlyphs" fill="#151515" xml:space="preserve">Immune complex,</text>
<text x="1101.5" y="618.4" font-size="42" font-weight="normal" textLength="336.8" lengthAdjust="spacingAndGlyphs" fill="#151515" xml:space="preserve">TLR ligands, IL-1β</text>
<text x="1953.0" y="569.0" font-size="42" font-weight="normal" textLength="307.3" lengthAdjust="spacingAndGlyphs" fill="#151515" xml:space="preserve">Glucocorticoids,</text>
<text x="1953.9" y="618.4" font-size="42" font-weight="normal" textLength="225.1" lengthAdjust="spacingAndGlyphs" fill="#151515" xml:space="preserve">IL-10, TGF-β</text>
<text x="2806.3" y="594.5" font-size="42" font-weight="normal" textLength="248.4" lengthAdjust="spacingAndGlyphs" fill="#151515" xml:space="preserve">TLR agonists</text>
<text x="168.0" y="777.7" font-size="42" font-weight="normal" textLength="92.7" lengthAdjust="spacingAndGlyphs" fill="#151515" xml:space="preserve">IL-1R</text>
<text x="327.4" y="755.5" font-size="42" font-weight="normal" textLength="94.0" lengthAdjust="spacingAndGlyphs" fill="#151515" xml:space="preserve">Arg-1</text>
<text x="485.6" y="784.0" font-size="42" font-weight="normal" textLength="102.8" lengthAdjust="spacingAndGlyphs" fill="#151515" xml:space="preserve">FIZZ1</text>
<text x="49.5" y="835.4" font-size="42" font-weight="normal" textLength="124.5" lengthAdjust="spacingAndGlyphs" fill="#151515" xml:space="preserve">CD206</text>
<text x="595.0" y="848.0" font-size="42" font-weight="normal" textLength="124.7" lengthAdjust="spacingAndGlyphs" fill="#151515" xml:space="preserve">Ym1/2</text>
<text x="1051.0" y="756.0" font-size="42" font-weight="normal" textLength="118.0" lengthAdjust="spacingAndGlyphs" fill="#151515" xml:space="preserve">IL-12R</text>
<text x="1270.4" y="768.0" font-size="42" font-weight="normal" textLength="101.0" lengthAdjust="spacingAndGlyphs" fill="#151515" xml:space="preserve">CD86</text>
<text x="888.8" y="820.7" font-size="42" font-weight="normal" textLength="117.8" lengthAdjust="spacingAndGlyphs" fill="#151515" xml:space="preserve">IL-10R</text>
<text x="1424.0" y="839.8" font-size="42" font-weight="normal" textLength="92.0" lengthAdjust="spacingAndGlyphs" fill="#151515" xml:space="preserve">IL-6R</text>
<text x="1842.0" y="772.0" font-size="42" font-weight="normal" textLength="104.5" lengthAdjust="spacingAndGlyphs" fill="#151515" xml:space="preserve">TLR-1</text>
<text x="1991.0" y="749.6" font-size="42" font-weight="normal" textLength="95.7" lengthAdjust="spacingAndGlyphs" fill="#151515" xml:space="preserve">Arg-1</text>
<text x="2148.8" y="777.0" font-size="42" font-weight="normal" textLength="125.8" lengthAdjust="spacingAndGlyphs" fill="#151515" xml:space="preserve">CD206</text>
<text x="1735.3" y="834.0" font-size="42" font-weight="normal" textLength="107.7" lengthAdjust="spacingAndGlyphs" fill="#151515" xml:space="preserve">TLR-8</text>
<text x="2258.0" y="840.8" font-size="42" font-weight="normal" textLength="126.0" lengthAdjust="spacingAndGlyphs" fill="#151515" xml:space="preserve">CD163</text>
<text x="2697.4" y="772.8" font-size="42" font-weight="normal" textLength="119.4" lengthAdjust="spacingAndGlyphs" fill="#151515" xml:space="preserve">IL-10R</text>
<text x="2929.9" y="771.2" font-size="42" font-weight="normal" textLength="119.1" lengthAdjust="spacingAndGlyphs" fill="#151515" xml:space="preserve">IL-12R</text>
<text x="114.0" y="1620.0" font-size="42" font-weight="normal" textLength="556.3" lengthAdjust="spacingAndGlyphs" fill="#151515" xml:space="preserve">TNF-α, IL-1α, IL-1β, IL-6, IL-12,</text>
<text x="181.5" y="1669.0" font-size="42" font-weight="normal" textLength="422.5" lengthAdjust="spacingAndGlyphs" fill="#151515" xml:space="preserve">IL-23, CXCL9, CXCL10,</text>
<text x="169.4" y="1718.0" font-size="42" font-weight="normal" textLength="445.6" lengthAdjust="spacingAndGlyphs" fill="#151515" xml:space="preserve">CXCL11, CXCL16, CCL5</text>
<text x="1061.2" y="1644.0" font-size="42" font-weight="normal" textLength="328.1" lengthAdjust="spacingAndGlyphs" fill="#151515" xml:space="preserve">TNF-α, IL-1β, IL-6,</text>
<text x="1117.4" y="1692.7" font-size="42" font-weight="normal" textLength="209.2" lengthAdjust="spacingAndGlyphs" fill="#151515" xml:space="preserve">IL-10, CCL1</text>
<text x="1865.6" y="1644.0" font-size="42" font-weight="normal" textLength="382.1" lengthAdjust="spacingAndGlyphs" fill="#151515" xml:space="preserve">IL-10, TGF-β, CCL16,</text>
<text x="1908.0" y="1692.7" font-size="42" font-weight="normal" textLength="296.5" lengthAdjust="spacingAndGlyphs" fill="#151515" xml:space="preserve">CCL18, CXCL13</text>
<text x="2770.5" y="1668.4" font-size="42" font-weight="normal" textLength="215.5" lengthAdjust="spacingAndGlyphs" fill="#151515" xml:space="preserve">IL-10, VEGF</text>
<text x="76.8" y="214.2" font-size="34" text-anchor="middle" fill="#111">•</text>
<text x="76.8" y="267.5" font-size="34" text-anchor="middle" fill="#111">•</text>
<text x="908.0" y="188.2" font-size="34" text-anchor="middle" fill="#111">•</text>
<text x="908.0" y="241.2" font-size="34" text-anchor="middle" fill="#111">•</text>
<text x="1740.0" y="220.7" font-size="34" text-anchor="middle" fill="#111">•</text>
<text x="2564.3" y="220.8" font-size="34" text-anchor="middle" fill="#111">•</text>
<text x="2564.3" y="273.2" font-size="34" text-anchor="middle" fill="#111">•</text>
</svg></body></html>
